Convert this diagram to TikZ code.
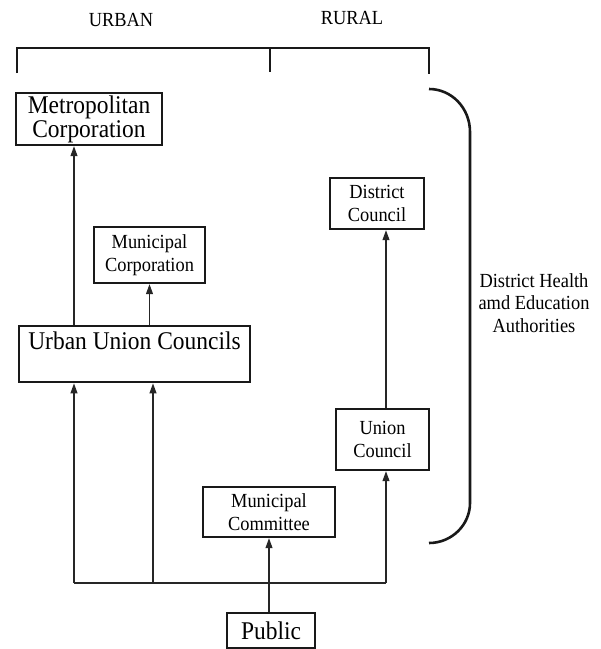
\documentclass[tikz,border=0pt]{standalone}
\usepackage{fontspec}
\setmainfont{Liberation Serif}[FakeStretch=0.92]
\usetikzlibrary{arrows.meta}
\begin{document}
\begin{tikzpicture}[x=1pt,y=-1pt,
  box/.style={draw=black!90,line width=2.4pt,inner sep=0pt,align=center},
  bigtxt/.style={font=\fontsize{25.5}{24}\selectfont},
  smalltxt/.style={font=\fontsize{20}{23}\selectfont},
  arr/.style={draw=black!85,line width=1.1pt,-{Triangle[length=10pt,width=7pt]}},
  conn/.style={draw=black!85,line width=1.1pt},
  heavy/.style={draw=black!90,line width=2.6pt}]
\useasboundingbox (0,0) rectangle (601,649);
% header
\node[font=\fontsize{20}{22}\selectfont] (urbanlbl) at (121,20) {URBAN};
\node[font=\fontsize{20}{22}\selectfont] (rurallbl) at (352,18) {RURAL};
\coordinate (bl) at (17,73);
\coordinate (br) at (429,74);
\coordinate (bm) at (270,72);
\draw[heavy] (bl) -- (17,48) -- (429,48) -- (br);
\draw[heavy] (270,48) -- (bm);
% boxes
\node[box,bigtxt,minimum width=146pt,minimum height=52pt] (metro) at (89,119) {Metropolitan\\Corporation};
\node[box,smalltxt,minimum width=111pt,minimum height=56pt] (mcorp) at (149.5,255) {Municipal\\Corporation};
\node[box,bigtxt,minimum width=231pt,text height=23pt,text depth=33pt,anchor=north] (urban) at (134.5,325) {Urban Union Councils};
\node[box,smalltxt,minimum width=94pt,minimum height=51pt] (dc) at (377,203.5) {District\\Council};
\node[box,smalltxt,minimum width=93pt,minimum height=61pt] (uc) at (382.5,439.5) {Union\\Council};
\node[box,smalltxt,minimum width=132pt,minimum height=50pt] (mcom) at (269,512) {Municipal\\Committee};
\node[box,bigtxt,minimum width=88pt,minimum height=35pt] (pub) at (271,630.5) {Public};
% brace
\coordinate (brtop) at (429,89);
\coordinate (brbot) at (429,543);
\draw[heavy] (brtop) .. controls (451.6,89) and (470,108) .. (470,132) -- (470,503) .. controls (470,525) and (451.6,543) .. (brbot);
\node[smalltxt,align=center,font=\fontsize{20}{22.5}\selectfont] (dh) at (534,303) {District Health\\amd Education\\Authorities};
% connectors
\coordinate (b1) at (74,583);
\coordinate (b2) at (153,583);
\coordinate (b3) at (386,583);
\draw[conn] (b1) -- (b3);
\draw[arr] (b1) -- (b1 |- urban.south);
\draw[arr] (b2) -- (b2 |- urban.south);
\draw[arr] (b3) -- (b3 |- uc.south);
\draw[arr] (b3 |- uc.north) -- (b3 |- dc.south);
\draw[arr] (b1 |- urban.north) -- (b1 |- metro.south);
\draw[arr] (mcorp.south |- urban.north) -- (mcorp.south);
\draw[arr] (mcom.south |- pub.north) -- (mcom.south);
\end{tikzpicture}
\end{document}
